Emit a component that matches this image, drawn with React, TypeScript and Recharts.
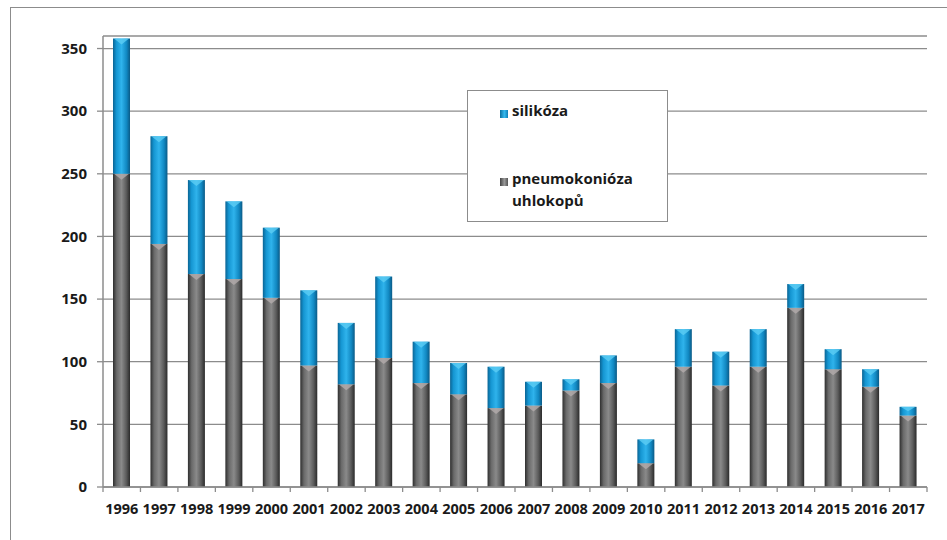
import React from 'react';
import { BarChart, Bar, XAxis, YAxis, CartesianGrid, Legend } from 'recharts';

// Cases per year, stacked: coal-miner pneumoconiosis at the bottom, silicosis on top
const years = [
  '1996', '1997', '1998', '1999', '2000', '2001', '2002', '2003', '2004', '2005', '2006',
  '2007', '2008', '2009', '2010', '2011', '2012', '2013', '2014', '2015', '2016', '2017',
];
const pneumokonioza = [250, 194, 170, 166, 151, 97, 82, 103, 83, 74, 63, 65, 77, 83, 19, 96, 81, 96, 143, 94, 80, 57];
const silikoza = [108, 86, 75, 62, 56, 60, 49, 65, 33, 25, 33, 19, 9, 22, 19, 30, 27, 30, 19, 16, 14, 7];
const yTicks = [0, 50, 100, 150, 200, 250, 300, 350];

const data = years.map((year, i) => ({
  year,
  pneumokonioza: pneumokonioza[i],
  silikoza: silikoza[i],
}));

const FONT = '"Open Sans", "Liberation Sans", sans-serif';
const LINE = '#8c8c8c';
const WIDTH = 947;
const HEIGHT = 540;
const PLOT_LEFT = 103;
const PLOT_RIGHT_GAP = 20;
const STEP = (WIDTH - PLOT_LEFT - PLOT_RIGHT_GAP) / years.length;

// bar segment with a horizontal cylinder gradient and a small chevron on top
const Segment = (props: any) => {
  const { x, y, width, height, gradId, bevel } = props;
  if (!height || height <= 0) return null;
  const b = Math.min(6, height / 2);
  return (
    <g>
      <rect x={x} y={y} width={width} height={height} fill={`url(#${gradId})`} />
      <polygon
        points={`${x + 1},${y} ${x + width - 1},${y} ${x + width / 2},${y + b}`}
        fill={bevel}
        opacity={0.8}
      />
    </g>
  );
};

// year label plus a tick mark on the left boundary of each category
const YearTick = (props: any) => {
  const { x, y, payload, index } = props;
  const left = x - STEP / 2;
  return (
    <g>
      <line x1={left} y1={y - 5} x2={left} y2={y} stroke={LINE} strokeWidth={1.3} />
      {index === years.length - 1 && (
        <line x1={x + STEP / 2} y1={y - 5} x2={x + STEP / 2} y2={y} stroke={LINE} strokeWidth={1.3} />
      )}
      <text
        x={x}
        y={y}
        dy={22}
        textAnchor="middle"
        fontFamily={FONT}
        fontWeight={700}
        fontSize={14.5}
        fill="#1a1a1a"
      >
        {payload.value}
      </text>
    </g>
  );
};

const legendItems = [
  { label: ['silikóza'], grad: 'linear-gradient(90deg, #0b6f9f, #35b9ef 55%, #0d7fb7)', top: 19 },
  { label: ['pneumokonióza', 'uhlokopů'], grad: 'linear-gradient(90deg, #444, #9a9a9a 55%, #555)', top: 87 },
];

const LegendBox = () => (
  <div
    style={{
      position: 'relative',
      width: 201,
      height: 132,
      boxSizing: 'border-box',
      border: `1.5px solid ${LINE}`,
      background: '#fff',
      fontFamily: FONT,
      fontWeight: 700,
      fontSize: 15,
      color: '#1a1a1a',
    }}
  >
    {legendItems.map((item) => (
      <div key={item.label[0]}>
        <div
          style={{
            position: 'absolute',
            left: 32,
            top: item.top,
            width: 8,
            height: 8,
            background: item.grad,
          }}
        />
        <div style={{ position: 'absolute', left: 44, top: item.top - 11, lineHeight: '22px', textAlign: 'left' }}>
          {item.label.map((line) => (
            <div key={line}>{line}</div>
          ))}
        </div>
      </div>
    ))}
  </div>
);

const App: React.FC = () => {
  return (
    <div style={{ position: 'absolute', left: 0, top: 0, width: WIDTH, height: HEIGHT, overflow: 'hidden', background: '#fff' }}>
      <div
        style={{
          position: 'absolute',
          left: 10,
          top: 7,
          width: WIDTH,
          height: HEIGHT,
          borderLeft: `1.5px solid ${LINE}`,
          borderTop: `1.5px solid ${LINE}`,
        }}
      />
      <BarChart
        width={WIDTH}
        height={HEIGHT}
        data={data}
        margin={{ top: 36, right: PLOT_RIGHT_GAP, bottom: 23, left: 0 }}
        barSize={17}
        style={{ position: 'absolute', left: 0, top: 0 }}
      >
        <defs>
          <linearGradient id="gradBlue" x1="0" y1="0" x2="1" y2="0">
            <stop offset="0%" stopColor="#0a6494" />
            <stop offset="20%" stopColor="#1596d2" />
            <stop offset="50%" stopColor="#2fb3ec" />
            <stop offset="80%" stopColor="#1188c2" />
            <stop offset="100%" stopColor="#0a5a86" />
          </linearGradient>
          <linearGradient id="gradGray" x1="0" y1="0" x2="1" y2="0">
            <stop offset="0%" stopColor="#2e2e2e" />
            <stop offset="22%" stopColor="#6a6a6a" />
            <stop offset="50%" stopColor="#8a8a8a" />
            <stop offset="78%" stopColor="#5c5c5c" />
            <stop offset="100%" stopColor="#2a2a2a" />
          </linearGradient>
        </defs>
        <CartesianGrid vertical={false} stroke={LINE} strokeWidth={1.3} />
        <XAxis
          dataKey="year"
          height={30}
          tickSize={5}
          tickMargin={0}
          tickLine={false}
          axisLine={{ stroke: LINE, strokeWidth: 1.5 }}
          interval={0}
          tick={<YearTick />}
        />
        <XAxis
          xAxisId="top"
          orientation="top"
          dataKey="year"
          height={0}
          tick={false}
          tickLine={false}
          axisLine={{ stroke: LINE, strokeWidth: 1.5 }}
        />
        <YAxis
          width={PLOT_LEFT}
          domain={[0, 360]}
          ticks={yTicks}
          interval={0}
          tickSize={6}
          tickMargin={10}
          tickLine={{ stroke: LINE, strokeWidth: 1.3 }}
          axisLine={{ stroke: LINE, strokeWidth: 1.5 }}
          tick={{ fontFamily: FONT, fontWeight: 700, fontSize: 15, fill: '#1a1a1a' }}
        />
        <YAxis
          yAxisId="right"
          orientation="right"
          width={0}
          domain={[0, 360]}
          tick={false}
          tickLine={false}
          axisLine={{ stroke: LINE, strokeWidth: 1.5 }}
        />
        <Legend
          layout="vertical"
          align="center"
          verticalAlign="middle"
          content={<LegendBox />}
          wrapperStyle={{ left: 467, top: 90, width: 201, height: 132 }}
        />
        <Bar
          dataKey="pneumokonioza"
          name="pneumokonióza uhlokopů"
          stackId="a"
          fill="#6e6e6e"
          isAnimationActive={false}
          shape={(p: any) => <Segment {...p} gradId="gradGray" bevel="#b4adad" />}
        />
        <Bar
          dataKey="silikoza"
          name="silikóza"
          stackId="a"
          fill="#1a9ad6"
          isAnimationActive={false}
          shape={(p: any) => <Segment {...p} gradId="gradBlue" bevel="#5ccdf4" />}
        />
      </BarChart>
    </div>
  );
};

export default App;
